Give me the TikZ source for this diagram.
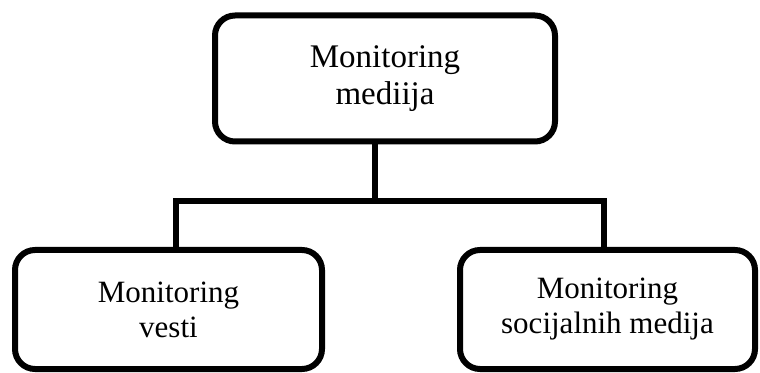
\documentclass[tikz,border=0pt]{standalone}
\usepackage{fontspec}
\setmainfont{Liberation Serif}
\begin{document}
\begin{tikzpicture}[x=1pt,y=1pt,
  box/.style={draw=black, line width=6pt, rounded corners=20pt, align=center, inner sep=0pt},
  bigtext/.style={font=\fontsize{33}{37}\selectfont},
  smalltext/.style={font=\fontsize{31}{35}\selectfont},
  link/.style={draw=black, line width=6pt}]
\useasboundingbox (0,0) rectangle (760,372);

% boxes
\node[box, bigtext, minimum width=340pt, minimum height=126pt] (top) at (385,293.5) {Monitoring\\mediija};
\node[box, smalltext, minimum width=307pt, minimum height=119pt] (left) at (168.5,62.5) {Monitoring\\vesti};
\node[box, smalltext, minimum width=295pt, minimum height=119pt] (right) at (607.5,62.5) {Monitoring\\socijalnih medija};

% junction points of the connector tree
\coordinate (hub) at (375,171);
\coordinate (jl) at (176,171);
\coordinate (jr) at (604,171);

\draw[link] (top.south -| hub) -- (hub);
\draw[link] (jl |- left.north) -- (jl) -- (jr) -- (jr |- right.north);
\end{tikzpicture}
\end{document}
